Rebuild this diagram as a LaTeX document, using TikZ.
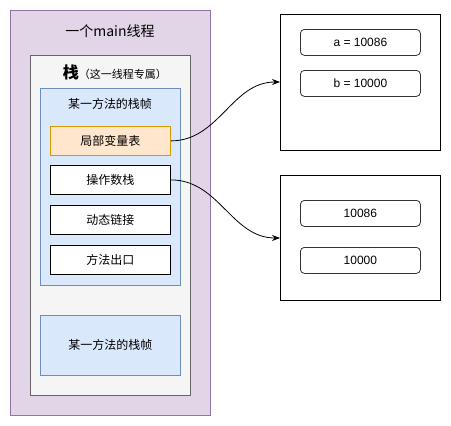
\documentclass[tikz,border=0pt]{standalone}
\usepackage{fontspec}
\setmainfont{Liberation Sans}
\newfontfamily\cjk{Noto Sans CJK SC}
\usetikzlibrary{arrows.meta}
\definecolor{purpfill}{HTML}{E1D5E7}
\definecolor{purpline}{HTML}{9673A6}
\definecolor{grayfill}{HTML}{F5F5F5}
\definecolor{grayline}{HTML}{666666}
\definecolor{bluefill}{HTML}{DAE8FC}
\definecolor{blueline}{HTML}{6C8EBF}
\definecolor{orfill}{HTML}{FFE6CC}
\definecolor{orline}{HTML}{D79B00}
\tikzset{
  box/.style={draw, line width=0.8pt, inner sep=0pt, anchor=north west},
  slot/.style={box, draw=black, fill=white, minimum width=120pt, minimum height=29pt, font=\cjk\fontsize{12}{14}\selectfont},
  val/.style={draw=black!80, line width=0.8pt, rounded corners=4pt, fill=white, minimum width=120pt, minimum height=26pt, inner sep=0pt, anchor=north west, font=\fontsize{12}{14}\selectfont},
  lbl/.style={inner sep=0pt},
  conn/.style={line width=0.8pt, -{Stealth[length=8pt,width=6pt]}, out=0, in=180, looseness=1}
}
\begin{document}
\begin{tikzpicture}[x=1pt,y=-1pt]
\useasboundingbox (0,0) rectangle (451,426);
% main thread
\node[box, draw=purpline, fill=purpfill, minimum width=200pt, minimum height=405pt] (thread) at (10,10) {};
\node[lbl, font=\cjk\fontsize{14}{16}\selectfont] (threadt) at (110,31) {一个main线程};
% stack
\node[box, draw=grayline, fill=grayfill, minimum width=160pt, minimum height=340pt] (stack) at (30,55) {};
\node[lbl] (stackt) at (115,72) {{\cjk\bfseries\fontsize{16}{18}\selectfont 栈}{\cjk\fontsize{11}{13}\selectfont （这一线程专属）}};
% frame 1
\node[box, draw=blueline, fill=bluefill, minimum width=140pt, minimum height=197pt] (frame1) at (40,88) {};
\node[lbl, font=\cjk\fontsize{12}{14}\selectfont] (frame1t) at (110,104) {某一方法的栈帧};
\node[slot, draw=orline, fill=orfill] (locals) at (50,126) {局部变量表};
\node[slot] (operand) at (50,165) {操作数栈};
\node[slot] (dynlink) at (50,205) {动态链接};
\node[slot] (retaddr) at (50,245) {方法出口};
% frame 2
\node[box, draw=blueline, fill=bluefill, minimum width=140pt, minimum height=60pt, font=\cjk\fontsize{12}{14}\selectfont] (frame2) at (40,315) {某一方法的栈帧};
% right boxes
\node[box, draw=black, fill=white, minimum width=160pt, minimum height=136pt] (heap1) at (280,14) {};
\node[val] (va) at (300,29) {a = 10086};
\node[val] (vb) at (300,70) {b = 10000};
\node[box, draw=black, fill=white, minimum width=160pt, minimum height=125pt] (heap2) at (280,175) {};
\node[val] (vc) at (300,200) {10086};
\node[val] (vd) at (300,247) {10000};
% connectors
\coordinate (in1) at (280,82);
\coordinate (in2) at (280,238);
\draw[conn] (locals.east) to (in1);
\draw[conn] (operand.east) to (in2);
\end{tikzpicture}
\end{document}
